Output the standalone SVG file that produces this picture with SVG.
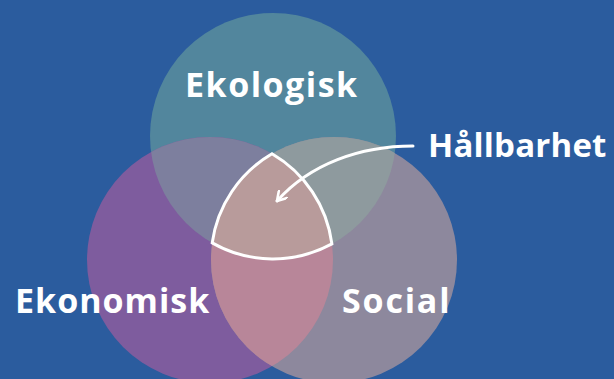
<svg xmlns="http://www.w3.org/2000/svg" width="614" height="379" viewBox="0 0 614 379">
<style>
.lbl{font-family:"Open Sans","Liberation Sans",sans-serif;font-weight:700;font-size:34px;fill:#ffffff;letter-spacing:1.5px}
.conn{fill:none;stroke:#ffffff;stroke-width:3;stroke-linecap:round}
</style>
<defs>
<clipPath id="cT"><circle cx="273" cy="136" r="123"/></clipPath>
<clipPath id="cL"><circle cx="210" cy="260" r="123"/></clipPath>
<marker id="arr" viewBox="0 0 12 12" refX="10" refY="6" markerWidth="12" markerHeight="12" markerUnits="userSpaceOnUse" orient="auto">
<polyline points="1,0.5 10,6 1,11.5" fill="none" stroke="#ffffff" stroke-width="2.6" stroke-linecap="round" stroke-linejoin="round"/>
</marker>
</defs>
<rect width="614" height="379" fill="#2B5C9E"/>
<g id="ekologisk-circle"><circle cx="273" cy="136" r="123" fill="#52869D"/></g>
<g id="ekonomisk-circle"><circle cx="210" cy="260" r="123" fill="#7E5C9E"/></g>
<g id="social-circle"><circle cx="334" cy="260" r="123" fill="#8D889D"/></g>
<g id="overlaps">
<circle cx="210" cy="260" r="123" fill="#7D7F9E" clip-path="url(#cT)"/>
<circle cx="334" cy="260" r="123" fill="#8E9A9E" clip-path="url(#cT)"/>
<circle cx="334" cy="260" r="123" fill="#B88699" clip-path="url(#cL)"/>
<g clip-path="url(#cT)"><circle cx="334" cy="260" r="123" fill="#B89B9B" clip-path="url(#cL)"/></g>
</g>
<g id="hallbarhet-region">
<path d="M272,153.8 A123,123 0 0 0 212.2,242.9 A123,123 0 0 0 331.9,243.9 A123,123 0 0 0 272,153.8 Z" fill="none" stroke="#ffffff" stroke-width="3" stroke-linejoin="miter"/>
</g>
<g id="connectors">
<path class="conn" d="M413,146 C360,146 310,164 277,201" marker-end="url(#arr)"/>
</g>
<g id="labels">
<text class="lbl" x="185" y="97" style="letter-spacing:1.5px">Ekologisk</text>
<text class="lbl" x="428" y="157" style="font-size:33px;letter-spacing:0.2px">Hållbarhet</text>
<text class="lbl" x="15" y="313" style="letter-spacing:1px">Ekonomisk</text>
<text class="lbl" x="342" y="313" style="letter-spacing:1.8px">Social</text>
</g>
</svg>
